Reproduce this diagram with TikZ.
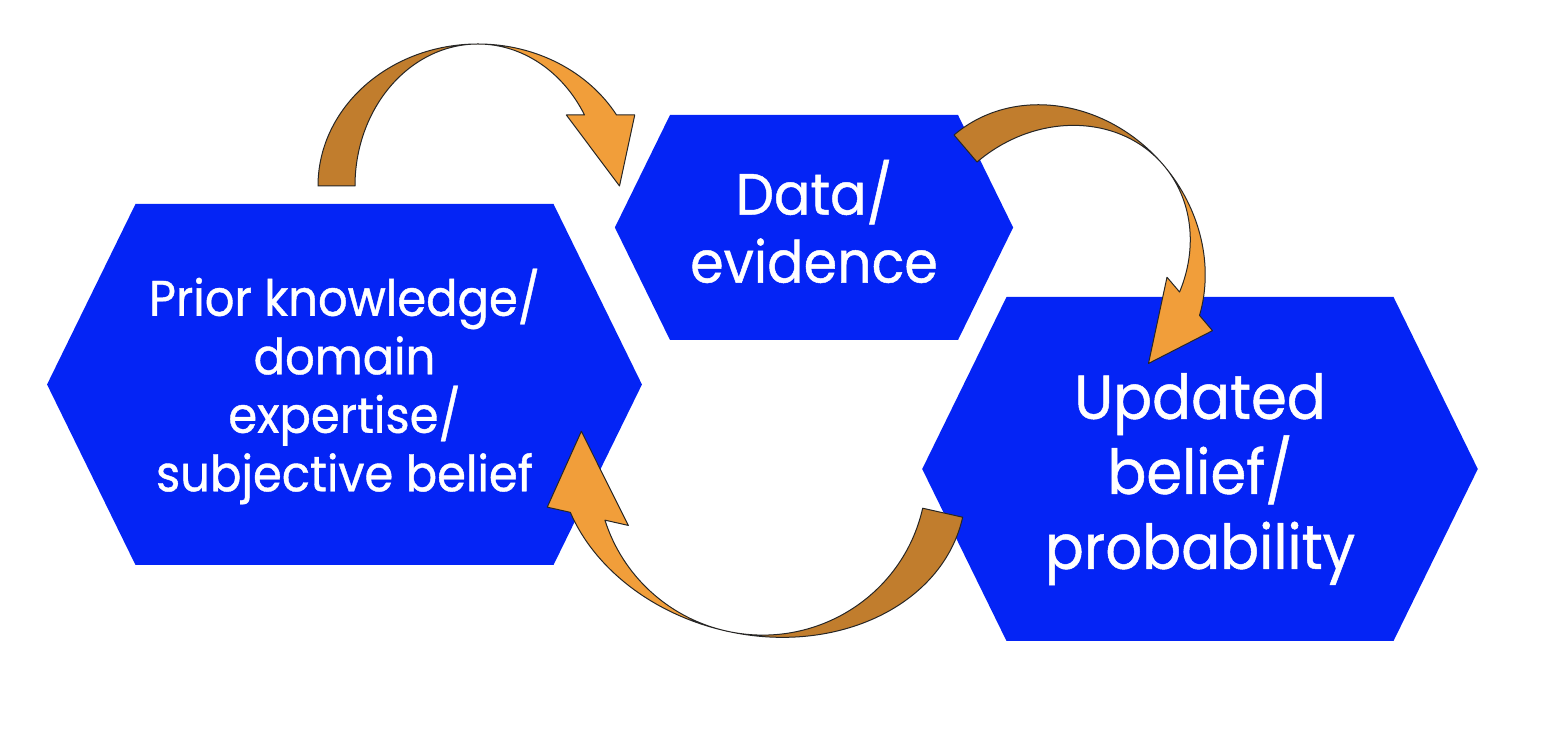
\documentclass[tikz,border=0pt]{standalone}
\usepackage{fontspec}
\newfontfamily\comic[FakeStretch=0.93, FakeBold=0.8]{Poppins}
\definecolor{boxblue}{RGB}{4,36,245}
\definecolor{arrdark}{RGB}{193,125,45}
\definecolor{arrlight}{RGB}{241,158,58}
\tikzset{
  boxtext/.style={text=white, align=center, inner sep=0pt},
  ribbon/.style={draw=black!85, line width=1pt, line join=round},
}
% hexagon: name, cx, cy, half top width, half height
\newcommand{\hexbox}[5]{%
  \fill[boxblue] ({#2-#4},{#3+#5}) -- ({#2+#4},{#3+#5}) -- ({#2+#4+0.49*#5},#3)
    -- ({#2+#4},{#3-#5}) -- ({#2-#4},{#3-#5}) -- ({#2-#4-0.49*#5},#3) -- cycle;
  \coordinate (#1) at (#2,#3);}
% curved block arrow: centre name, rotation, inner rx, outer rx, ry, head inner r, head outer r
\newcommand{\curvedarrow}[7]{%
  \begin{scope}[shift={(#1)}, rotate=#2]
    \filldraw[ribbon, fill=arrdark] (-#4,0)
      arc[start angle=180, end angle=90, x radius=#4, y radius=#5]
      arc[start angle=90, end angle=180, x radius=#3, y radius=#5] -- cycle;
    \filldraw[ribbon, fill=arrlight] (0,#5)
      arc[start angle=90, end angle=30, x radius=#4, y radius=#5]
      -- ({#7*cos(30)},{#5*sin(30)}) -- ({(#3+#4)/2},0)
      -- ({#6*cos(30)},{#5*sin(30)}) -- ({#3*cos(30)},{#5*sin(30)})
      arc[start angle=30, end angle=90, x radius=#3, y radius=#5] -- cycle;
  \end{scope}}
\begin{document}
\begin{tikzpicture}[x=1pt, y=1pt]
  \useasboundingbox (0,0) rectangle (1544,744);
  \hexbox{prior}{344.5}{359.5}{209}{180.5}
  \hexbox{data}{814}{516.5}{144}{112.5}
  \hexbox{updated}{1200}{275}{193.5}{172}
  \node[boxtext, font=\comic\fontsize{50}{58.5}\selectfont] (priortext) at ([yshift=-2]prior)
    {Prior knowledge/\\domain\\expertise/\\subjective belief};
  \node[boxtext, font=\comic\fontsize{58}{68}\selectfont] (datatext) at ([yshift=6]data)
    {Data/\\evidence};
  \node[boxtext, font=\comic\fontsize{62}{75}\selectfont] (updtext) at ([yshift=-10]updated)
    {Updated\\belief/\\probability};
  \coordinate (a1) at (478,558);
  \coordinate (a2) at (1057,488);
  \coordinate (a3) at (762,272);
  \curvedarrow{a1}{0}{123}{160}{142}{102}{181}
  \curvedarrow{a2}{-49.6}{123.4}{158.9}{140}{101}{182}
  \curvedarrow{a3}{167.3}{164.7}{205.7}{163}{137}{233}
\end{tikzpicture}
\end{document}
